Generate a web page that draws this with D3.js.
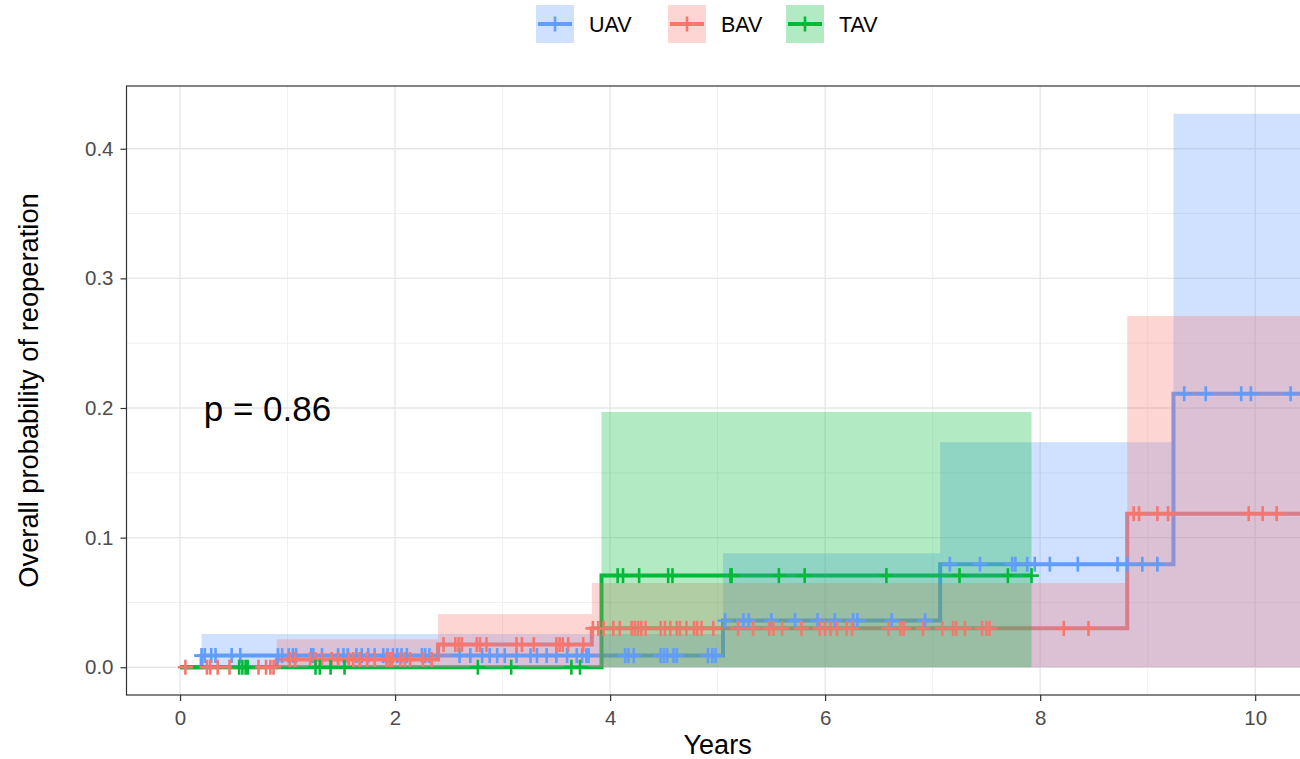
<!doctype html>
<html>
<head>
<meta charset="utf-8">
<script src="https://cdn.jsdelivr.net/npm/d3@7"></script>
<style>
    body { margin: 0; background: #fff; }
    text { font-family: "Liberation Sans", Arial, sans-serif; }
</style>
</head>
<body>
<svg id="chart" width="1300" height="759"></svg>
<script>
// groups and colours
var groups = ["UAV", "BAV", "TAV"];
var colors = ["#619CFF", "#F8766D", "#00BA38"];

// step curves: time where the estimate changes, the estimate, upper CI
var timesUAV = [0, 0.20, 5.05, 7.07, 9.24, 11.2];
var estUAV   = [0, 0.009, 0.036, 0.0795, 0.211, 0.211];
var upperUAV = [0, 0.0257, 0.088, 0.1736, 0.427, 0.427];

var timesBAV = [0, 0.90, 2.40, 3.83, 8.81, 11.2];
var estBAV   = [0, 0.006, 0.0175, 0.030, 0.1185, 0.1185];
var upperBAV = [0, 0.0216, 0.041, 0.065, 0.271, 0.271];

var timesTAV = [0, 3.92, 7.92];
var estTAV   = [0, 0.0707, 0.0707];
var upperTAV = [0, 0.197, 0.197];

// censoring times
var censorUAV = [0.20, 0.23, 0.29, 0.33, 0.48, 0.56, 0.91, 0.95, 1.01, 1.05, 1.08, 1.22, 1.24, 1.32,
    1.47, 1.52, 1.56, 1.64, 1.69, 1.75, 1.81, 1.89, 1.93, 1.98, 2.02, 2.06, 2.11, 2.25, 2.28, 2.32,
    2.60, 2.70, 2.81, 2.88, 2.95, 3.02, 3.13, 3.26, 3.32, 3.41, 3.50, 3.60, 3.69, 3.74, 3.78, 3.80,
    4.14, 4.17, 4.22, 4.47, 4.50, 4.53, 4.59, 4.62, 4.91, 4.95, 4.98,
    5.07, 5.24, 5.29, 5.50, 5.72, 5.93, 6.09, 6.26, 6.30, 6.62, 6.93,
    7.16, 7.44, 7.74, 7.77, 7.88, 7.95, 8.09, 8.35, 8.72, 8.81, 8.95, 9.09,
    9.34, 9.54, 9.87, 9.96, 10.33];
var censorBAV = [0.05, 0.25, 0.28, 0.35, 0.46, 0.73, 0.80, 0.84, 0.87,
    1.02, 1.07, 1.21, 1.26, 1.32, 1.41, 1.47, 1.57, 1.61, 1.67, 1.74, 1.81, 1.92, 1.95, 1.97, 2.05,
    2.09, 2.14, 2.26, 2.34,
    2.45, 2.56, 2.59, 2.62, 2.76, 2.79, 2.85, 3.13, 3.18, 3.29, 3.50, 3.53, 3.56, 3.61, 3.75,
    3.84, 3.89, 3.94, 4.03, 4.09, 4.20, 4.23, 4.26, 4.29, 4.33, 4.47, 4.51, 4.56, 4.62, 4.65, 4.71,
    4.78, 4.81, 4.85, 4.96, 5.19, 5.33, 5.48, 5.52, 5.60, 5.78, 5.95, 6.00, 6.05, 6.11, 6.20, 6.25,
    6.59, 6.70, 6.73, 6.91, 7.09, 7.19, 7.22, 7.30, 7.46, 7.50, 7.53, 8.22, 8.45,
    8.87, 8.92, 9.09, 9.19, 9.94, 10.07, 10.20];
var censorTAV = [0.55, 0.58, 0.61, 0.63, 1.26, 1.30, 1.40, 1.53, 2.77, 3.08, 3.64, 3.72,
    4.07, 4.12, 4.27, 4.54, 4.58, 5.12, 5.13, 5.57, 5.81, 6.57, 7.25, 7.70, 7.92];

var xTicks = [0, 2, 4, 6, 8, 10];
var yTicks = [0, 0.1, 0.2, 0.3, 0.4];
var pText = "p = 0.86";

var curves = [
    { name: "UAV", times: timesUAV, est: estUAV, upper: upperUAV, censor: censorUAV },
    { name: "BAV", times: timesBAV, est: estBAV, upper: upperBAV, censor: censorBAV },
    { name: "TAV", times: timesTAV, est: estTAV, upper: upperTAV, censor: censorTAV }
];

var svg = d3.select("#chart");

// panel box (right edge runs past the picture)
var pLeft = 126.5, pTop = 86, pRight = 1410, pBottom = 695;

var x = d3.scaleLinear().domain([-0.498, 11.44]).range([pLeft, pRight]);
var y = d3.scaleLinear().domain([-0.0214, 0.4484]).range([pBottom, pTop]);
var color = d3.scaleOrdinal().domain(groups).range(colors);

svg.append("defs").append("clipPath").attr("id", "clip")
    .append("rect").attr("x", pLeft).attr("y", pTop)
    .attr("width", pRight - pLeft).attr("height", pBottom - pTop);

var grid = svg.append("g").attr("clip-path", "url(#clip)");
// minor grid
grid.selectAll(".gxm").data([1, 3, 5, 7, 9, 11]).enter().append("line")
    .attr("x1", function(d) { return x(d); }).attr("x2", function(d) { return x(d); })
    .attr("y1", pTop).attr("y2", pBottom)
    .attr("stroke", "#f0f0f0").attr("stroke-width", 1);
grid.selectAll(".gym").data([0.05, 0.15, 0.25, 0.35]).enter().append("line")
    .attr("y1", function(d) { return y(d); }).attr("y2", function(d) { return y(d); })
    .attr("x1", pLeft).attr("x2", pRight)
    .attr("stroke", "#f0f0f0").attr("stroke-width", 1);
// major grid
grid.selectAll(".gx").data(xTicks).enter().append("line")
    .attr("x1", function(d) { return x(d); }).attr("x2", function(d) { return x(d); })
    .attr("y1", pTop).attr("y2", pBottom)
    .attr("stroke", "#e6e6e6").attr("stroke-width", 1.3);
grid.selectAll(".gy").data(yTicks).enter().append("line")
    .attr("y1", function(d) { return y(d); }).attr("y2", function(d) { return y(d); })
    .attr("x1", pLeft).attr("x2", pRight)
    .attr("stroke", "#e6e6e6").attr("stroke-width", 1.3);

var plot = svg.append("g").attr("clip-path", "url(#clip)");

function stepPoints(c, key) {
    return c.times.map(function(t, i) { return { t: t, v: c[key][i] }; });
}
function levelAt(c, t) {
    var i = d3.bisectRight(c.times, t) - 1;
    return c.est[Math.max(0, i)];
}

var line = d3.line()
    .x(function(d) { return x(d.t); })
    .y(function(d) { return y(d.v); })
    .curve(d3.curveStepAfter);

var area = d3.area()
    .x(function(d) { return x(d.t); })
    .y0(y(0))
    .y1(function(d) { return y(d.v); })
    .curve(d3.curveStepAfter);

// step lines (below the bands)
plot.selectAll(".step").data(curves).enter().append("path")
    .attr("d", function(c) { return line(stepPoints(c, "est")); })
    .attr("fill", "none")
    .attr("stroke", function(c) { return color(c.name); })
    .attr("stroke-width", 4);

// confidence bands
plot.selectAll(".band").data(curves).enter().append("path")
    .attr("d", function(c) { return area(stepPoints(c, "upper")); })
    .attr("fill", function(c) { return color(c.name); })
    .attr("fill-opacity", 0.3);

// censor marks (+)
curves.forEach(function(c) {
    var g = plot.append("g")
        .attr("stroke", color(c.name))
        .attr("stroke-width", 2.6);
    var m = g.selectAll("g").data(c.censor).enter().append("g")
        .attr("transform", function(t) { return "translate(" + x(t) + "," + y(levelAt(c, t)) + ")"; });
    m.append("line").attr("x1", 0).attr("x2", 0).attr("y1", -7.5).attr("y2", 7.5);
    m.append("line").attr("x1", -7.5).attr("x2", 7.5).attr("y1", 0).attr("y2", 0);
});

// p value
svg.append("text")
    .attr("x", x(0.22))
    .attr("y", y(0.2) + 12.5)
    .attr("font-size", "35px")
    .attr("fill", "#000")
    .text(pText);

// panel border
svg.append("rect").attr("x", pLeft).attr("y", pTop)
    .attr("width", pRight - pLeft).attr("height", pBottom - pTop)
    .attr("fill", "none").attr("stroke", "#333").attr("stroke-width", 1.2);

// axes
var xAxis = svg.append("g")
    .attr("transform", "translate(0," + pBottom + ")")
    .call(d3.axisBottom(x).tickValues(xTicks).tickSize(6).tickPadding(9.5).tickFormat(d3.format("d")));
var yAxis = svg.append("g")
    .attr("transform", "translate(" + pLeft + ",0)")
    .call(d3.axisLeft(y).tickValues(yTicks).tickSize(6).tickPadding(7).tickFormat(d3.format(".1f")));
[xAxis, yAxis].forEach(function(a) {
    a.select(".domain").remove();
    a.selectAll(".tick line").attr("stroke", "#333").attr("stroke-width", 1.2);
    a.selectAll(".tick text").attr("fill", "#4d4d4d").attr("font-size", "20.5px")
        .attr("font-family", "Liberation Sans, Arial, sans-serif");
});

// axis titles
svg.append("text")
    .attr("x", x(5)).attr("y", 754)
    .attr("text-anchor", "middle")
    .attr("font-size", "27px")
    .text("Years");
svg.append("text")
    .attr("transform", "translate(38," + ((pTop + pBottom) / 2) + ") rotate(-90)")
    .attr("text-anchor", "middle")
    .attr("font-size", "27.3px")
    .text("Overall probability of reoperation");

// legend
var legendX = [536, 668, 786];
var legend = svg.selectAll(".legend").data(groups).enter().append("g")
    .attr("transform", function(d, i) { return "translate(" + legendX[i] + ",5)"; });
legend.append("rect")
    .attr("width", 38).attr("height", 38)
    .attr("fill", function(d) { return color(d); })
    .attr("fill-opacity", 0.3);
legend.append("line")
    .attr("x1", 2).attr("x2", 36).attr("y1", 19).attr("y2", 19)
    .attr("stroke", function(d) { return color(d); }).attr("stroke-width", 4);
legend.append("line")
    .attr("x1", 19).attr("x2", 19).attr("y1", 11.5).attr("y2", 26.5)
    .attr("stroke", function(d) { return color(d); }).attr("stroke-width", 2.6);
legend.append("text")
    .attr("x", 53).attr("y", 26.5)
    .attr("font-size", "21.5px")
    .attr("fill", "#000")
    .text(function(d) { return d; });
</script>
</body>
</html>
